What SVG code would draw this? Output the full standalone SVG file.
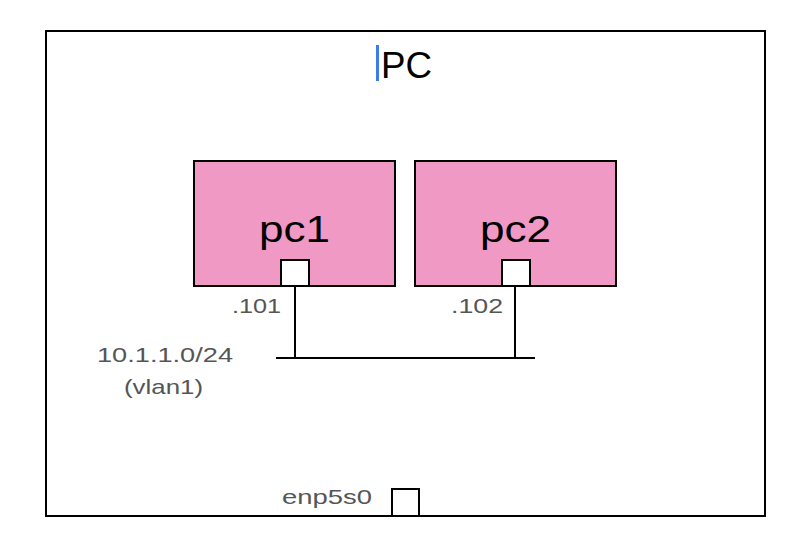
<svg xmlns="http://www.w3.org/2000/svg" width="808" height="550" viewBox="0 0 808 550">
<style>
.box{fill:#fff;stroke:#000;stroke-width:2}
.node{fill:#f199c5;stroke:#000;stroke-width:2}
.port{fill:#fff;stroke:#000;stroke-width:2}
.ln{stroke:#000;stroke-width:2;fill:none}
.big{font-family:"Liberation Sans","DejaVu Sans",sans-serif;font-size:37px;fill:#000}
.lbl{font-family:"Liberation Sans","DejaVu Sans",sans-serif;font-size:21px;fill:#555}
</style>
<rect width="808" height="550" fill="#fff"/>
<g id="PC">
<rect class="box" x="46" y="31" width="719" height="485"/>
<rect x="376" y="45" width="3" height="36" fill="#3b7de8"/>
<text class="big" x="381" y="78" textLength="51" lengthAdjust="spacingAndGlyphs">PC</text>
</g>
<g id="pc1">
<rect class="node" x="194" y="161" width="201" height="125"/>
<text class="big" x="259" y="242" textLength="71" lengthAdjust="spacingAndGlyphs">pc1</text>
<rect class="port" x="281" y="260" width="28" height="26"/>
<text class="lbl" x="232" y="313" textLength="49" lengthAdjust="spacingAndGlyphs">.101</text>
</g>
<g id="pc2">
<rect class="node" x="415" y="161" width="201" height="125"/>
<text class="big" x="480" y="242" textLength="71" lengthAdjust="spacingAndGlyphs">pc2</text>
<rect class="port" x="502" y="260" width="28" height="26"/>
<text class="lbl" x="451" y="313" textLength="52" lengthAdjust="spacingAndGlyphs">.102</text>
</g>
<g id="vlan1">
<text class="lbl" x="97" y="362" textLength="136" lengthAdjust="spacingAndGlyphs">10.1.1.0/24</text>
<text class="lbl" x="124" y="394" textLength="79" lengthAdjust="spacingAndGlyphs">(vlan1)</text>
</g>
<g id="enp5s0">
<rect class="port" x="392" y="489" width="27" height="27"/>
<text class="lbl" x="282" y="504" textLength="90" lengthAdjust="spacingAndGlyphs">enp5s0</text>
</g>
<g id="connectors">
<line class="ln" x1="295" y1="286" x2="295" y2="359"/>
<line class="ln" x1="515" y1="286" x2="515" y2="359"/>
<line class="ln" x1="276" y1="358" x2="535" y2="358"/>
</g>
</svg>
